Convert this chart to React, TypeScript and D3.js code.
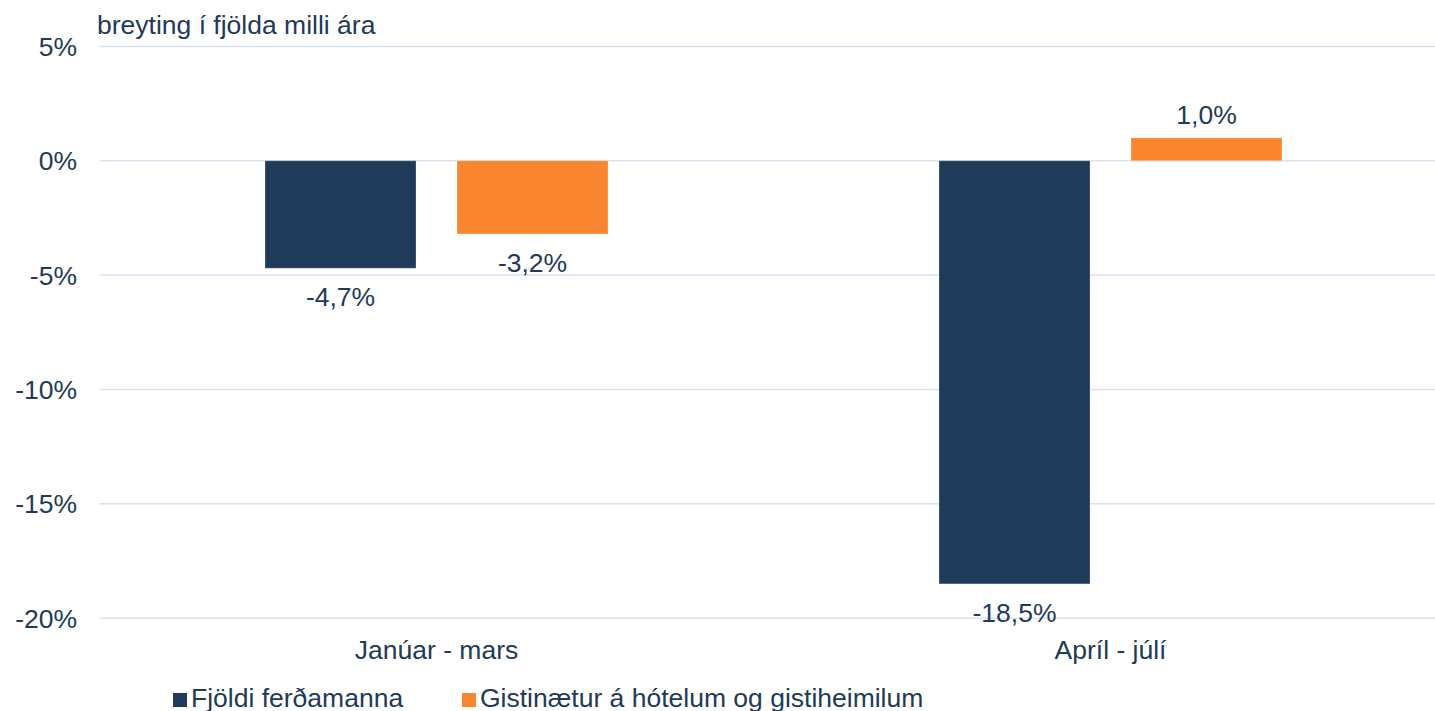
import React from "react";
import * as d3 from "d3";

const categories = ["Janúar - mars", "Apríl - júlí"];
const seriesNames = ["Fjöldi ferðamanna", "Gistinætur á hótelum og gistiheimilum"];
const touristsValues = [-4.7, -18.5];
const nightsValues = [-3.2, 1.0];
const yTicks = [5, 0, -5, -10, -15, -20];
const yAxisTitle = "breyting í fjölda milli ára";

const colors = ["#203a5a", "#f9862e"];
const textColor = "#223a57";
const gridColor = "#d7e3f0";
const font = "'Liberation Sans', Arial, sans-serif";
const FS = 26.5;

const W = 1435;
const H = 711;

export default function App() {
  const series = [touristsValues, nightsValues];
  const y = d3.scaleLinear().domain([-20, 5]).range([618.2, 46.4]);
  const x = d3.scaleBand<string>().domain(categories).range([99.5, 1447.5]).padding(0);
  const groupW = x.bandwidth();
  const xs = d3
    .scaleBand<string>()
    .domain(seriesNames)
    .range([165.5, groupW - 165.5])
    .paddingInner(41 / 192)
    .paddingOuter(0);
  const fmt = (v: number) => v.toFixed(1).replace(".", ",") + "%";

  return (
    <svg
      width={W}
      height={H}
      style={{ position: "fixed", left: 0, top: 0, background: "#fff" }}
      fontFamily={font}
    >
      <text x={97} y={34} fontSize={FS} fill={textColor}>
        {yAxisTitle}
      </text>
      {yTicks.map((t) => (
        <g key={t}>
          <line x1={99.5} x2={W} y1={y(t)} y2={y(t)} stroke={gridColor} strokeWidth={1.5} />
          <text x={77} y={y(t) + 9.5} fontSize={FS} fill={textColor} textAnchor="end">
            {t + "%"}
          </text>
        </g>
      ))}
      {categories.map((c, ci) => (
        <g key={c} transform={`translate(${x(c)},0)`}>
          {seriesNames.map((s, si) => {
            const v = series[si][ci];
            const bx = xs(s)!;
            const bw = xs.bandwidth();
            const top = Math.min(y(v), y(0));
            const h = Math.abs(y(v) - y(0));
            const labelY = v < 0 ? y(v) + 38 : y(v) - 14;
            return (
              <g key={s}>
                <rect
                  x={bx}
                  y={top}
                  width={bw}
                  height={h}
                  fill={colors[si]}
                  stroke="#ffffff"
                  strokeOpacity={0.25}
                  strokeWidth={1}
                />
                <text x={bx + bw / 2} y={labelY} fontSize={FS} fill={textColor} textAnchor="middle">
                  {fmt(v)}
                </text>
              </g>
            );
          })}
          <text x={groupW / 2} y={658.5} fontSize={FS} fill={textColor} textAnchor="middle">
            {c}
          </text>
        </g>
      ))}
      <g>
        <rect x={173} y={693} width={14} height={14} fill={colors[0]} />
        <text x={191} y={707} fontSize={FS} fill={textColor}>
          {seriesNames[0]}
        </text>
        <rect x={462} y={693} width={14} height={14} fill={colors[1]} />
        <text x={480} y={707} fontSize={FS} fill={textColor}>
          {seriesNames[1]}
        </text>
      </g>
    </svg>
  );
}
